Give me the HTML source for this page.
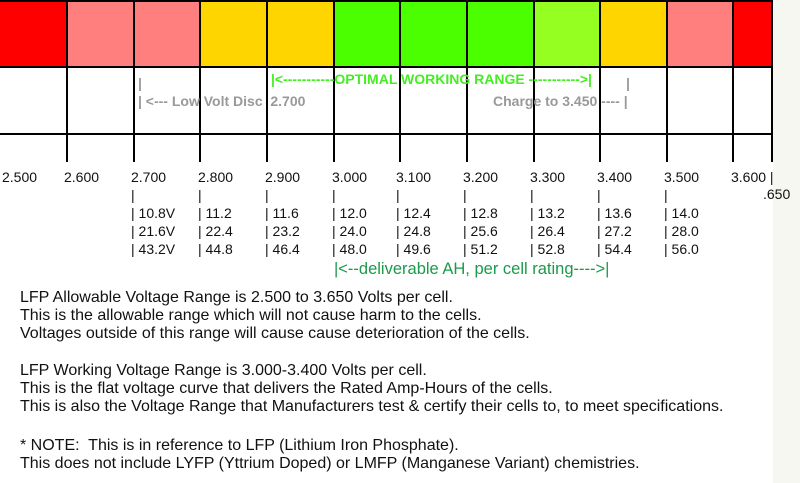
<!DOCTYPE html>
<html><head><meta charset="utf-8"><style>
body{margin:0;width:800px;height:483px;background:#fff;position:relative;overflow:hidden;font-family:"Liberation Sans",Arial,sans-serif;}
.c{position:absolute;top:0;height:67px;}
.v{position:absolute;top:0;width:2px;height:162px;background:#000;}
.h{position:absolute;left:0;width:773px;height:2px;background:#000;}
.t{position:absolute;white-space:pre;font-size:14px;color:#111;line-height:18px;}
.g{color:#999;font-weight:bold;font-size:14px;}
.p{position:absolute;left:20px;font-size:16px;line-height:18px;white-space:pre;color:#111;}
</style></head><body>
<div style="position:absolute;left:773px;top:0;width:27px;height:483px;background:#f7f7f2"></div>
<div class="c" style="left:0;width:67px;background:#ff0000"></div>
<div class="c" style="left:67px;width:133px;background:#ff7f7f"></div>
<div class="c" style="left:200px;width:134px;background:#ffd500"></div>
<div class="c" style="left:334px;width:200px;background:#4cff00"></div>
<div class="c" style="left:534px;width:66px;background:#96ff22"></div>
<div class="c" style="left:600px;width:67px;background:#ffd500"></div>
<div class="c" style="left:667px;width:66px;background:#ff7f7f"></div>
<div class="c" style="left:733px;width:40px;background:#ff0000"></div>
<div class="h" style="top:0"></div>
<div class="h" style="top:66px"></div>
<div class="h" style="top:133px"></div>
<div class="v" style="left:66px"></div><div class="v" style="left:133px"></div><div class="v" style="left:199px"></div>
<div class="v" style="left:266px"></div><div class="v" style="left:333px"></div><div class="v" style="left:399px"></div>
<div class="v" style="left:466px"></div><div class="v" style="left:533px"></div><div class="v" style="left:599px"></div>
<div class="v" style="left:666px"></div><div class="v" style="left:732px"></div><div class="v" style="left:771px"></div>
<div class="t g" style="left:138px;top:74px">|</div>
<div class="t g" style="left:138px;top:92px">| &lt;--- Low Volt Disc  2.700</div>
<div class="t" style="left:271px;top:70px;color:#44ee22;font-weight:bold;font-size:14px">|&lt;-----------OPTIMAL WORKING RANGE -----------&gt;|</div>
<div class="t g" style="left:626px;top:74px">|</div>
<div class="t g" style="left:493px;top:92px">Charge to 3.450 ---- |</div>
<div class="t" style="left:2px;top:168px">2.500</div>
<div class="t" style="left:64px;top:168px">2.600</div>
<div class="t" style="left:131px;top:168px">2.700
|
| 10.8V
| 21.6V
| 43.2V</div>
<div class="t" style="left:198px;top:168px">2.800
|
| 11.2
| 22.4
| 44.8</div>
<div class="t" style="left:265px;top:168px">2.900
|
| 11.6
| 23.2
| 46.4</div>
<div class="t" style="left:332px;top:168px">3.000
|
| 12.0
| 24.0
| 48.0</div>
<div class="t" style="left:396px;top:168px">3.100
|
| 12.4
| 24.8
| 49.6</div>
<div class="t" style="left:463px;top:168px">3.200
|
| 12.8
| 25.6
| 51.2</div>
<div class="t" style="left:530px;top:168px">3.300
|
| 13.2
| 26.4
| 52.8</div>
<div class="t" style="left:597px;top:168px">3.400
|
| 13.6
| 27.2
| 54.4</div>
<div class="t" style="left:664px;top:168px">3.500
|
| 14.0
| 28.0
| 56.0</div>
<div class="t" style="left:731px;top:168px">3.600 |</div>
<div class="t" style="left:763px;top:185px">.650</div>
<div class="t" style="left:334px;top:260px;color:#1a9a4a;font-size:16.5px">|&lt;--deliverable AH, per cell rating----&gt;|</div>
<div class="p" style="top:289px">LFP Allowable Voltage Range is 2.500 to 3.650 Volts per cell.
This is the allowable range which will not cause harm to the cells.
Voltages outside of this range will cause cause deterioration of the cells.</div>
<div class="p" style="top:362px">LFP Working Voltage Range is 3.000-3.400 Volts per cell.
This is the flat voltage curve that delivers the Rated Amp-Hours of the cells.
This is also the Voltage Range that Manufacturers test &amp; certify their cells to, to meet specifications.</div>
<div class="p" style="top:437px">* NOTE:  This is in reference to LFP (Lithium Iron Phosphate).
This does not include LYFP (Yttrium Doped) or LMFP (Manganese Variant) chemistries.</div>
</body></html>
